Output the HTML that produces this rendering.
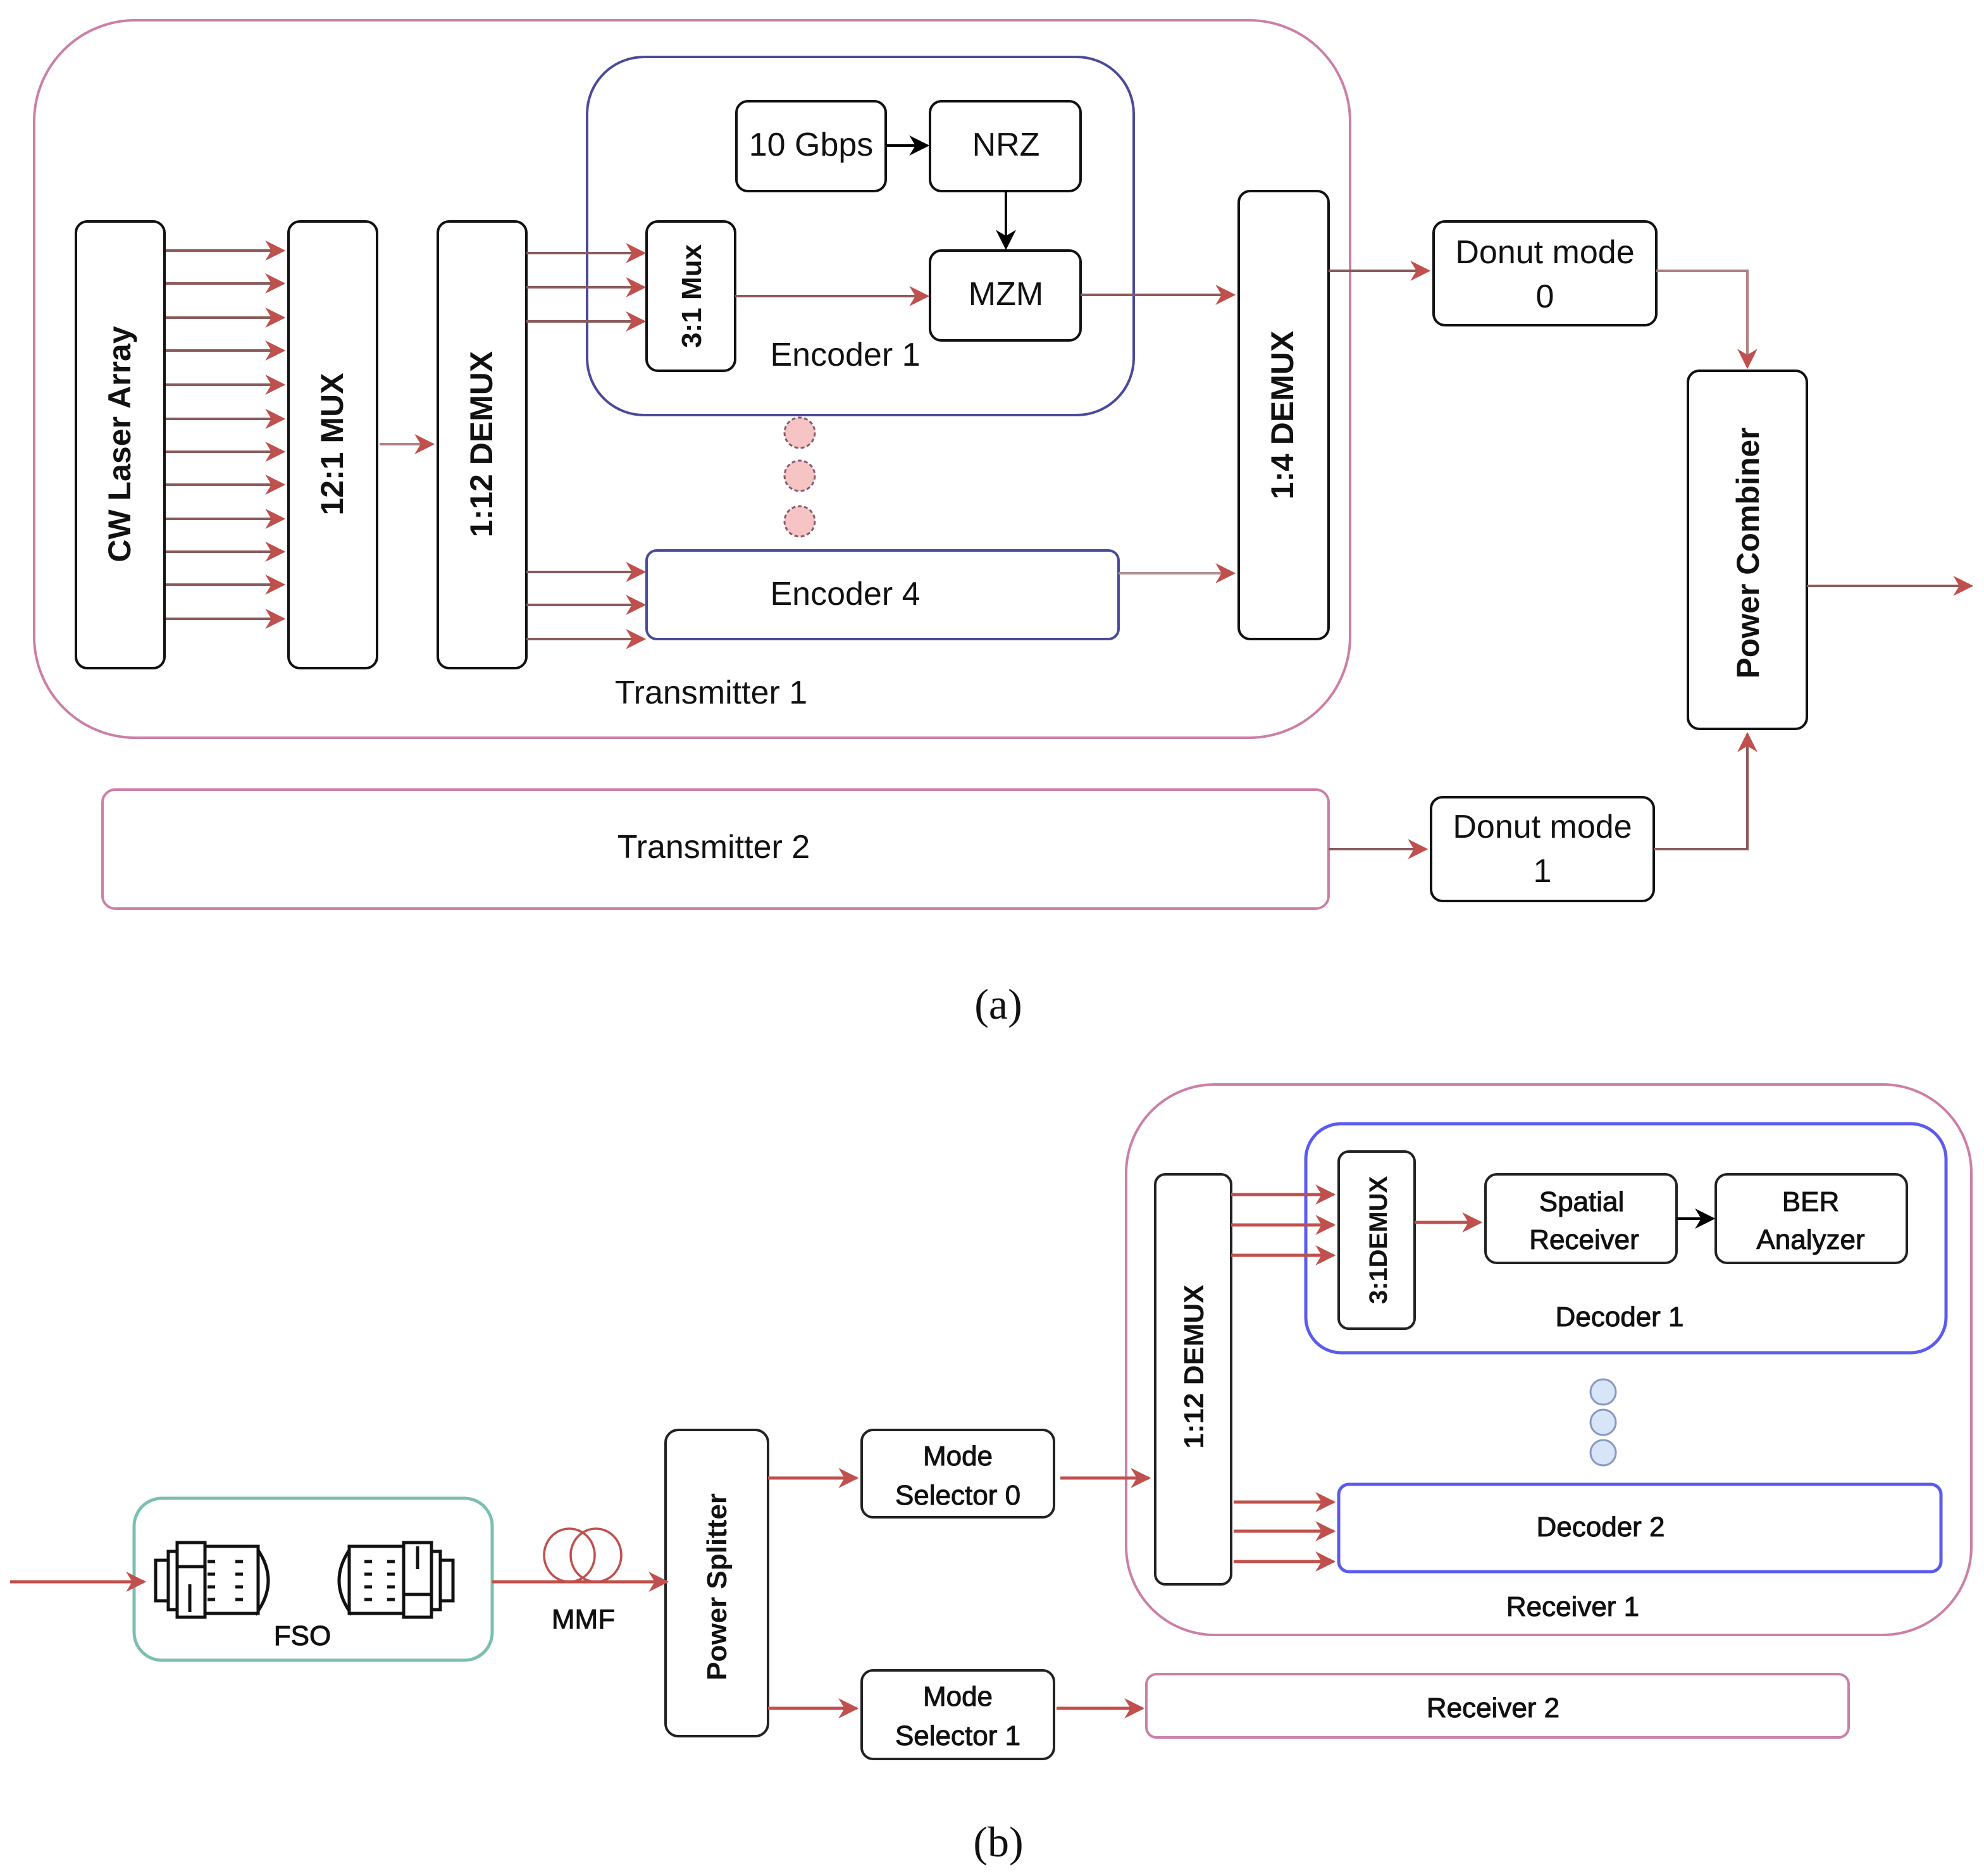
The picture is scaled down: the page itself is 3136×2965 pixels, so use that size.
<!DOCTYPE html>
<html><head><meta charset="utf-8"><style>
html,body{margin:0;padding:0;background:#fff;}
svg{display:block;}
text{font-family:"Liberation Sans",Arial,sans-serif;fill:#111;}
</style></head><body>
<svg width="3136" height="2965" viewBox="0 0 1568 1482.5" xmlns="http://www.w3.org/2000/svg">
<defs>
<marker id="ar" viewBox="0 0 10 10" refX="9" refY="5" markerWidth="16" markerHeight="16" markerUnits="userSpaceOnUse" orient="auto"><path d="M0,0 L10,5 L0,10 L3,5 z" fill="#c0504d"/></marker>
<marker id="ab" viewBox="0 0 10 10" refX="9" refY="5" markerWidth="16" markerHeight="16" markerUnits="userSpaceOnUse" orient="auto"><path d="M0,0 L10,5 L0,10 L3,5 z" fill="#000"/></marker>
</defs>
<rect width="1568" height="1482.5" fill="#fff"/>

<!-- ===== (a) ===== -->
<rect x="27" y="16" width="1040" height="567" rx="80" fill="none" stroke="#cc7fa6" stroke-width="2"/>
<rect x="464" y="45" width="432" height="283" rx="45" fill="none" stroke="#4a4a9a" stroke-width="2"/>
<g fill="#fff" stroke="#111" stroke-width="2">
<rect x="60" y="175" width="70" height="353" rx="9"/>
<rect x="228" y="175" width="70" height="353" rx="9"/>
<rect x="346" y="175" width="70" height="353" rx="9"/>
<rect x="582" y="80" width="118" height="71" rx="9"/>
<rect x="735" y="80" width="119" height="71" rx="9"/>
<rect x="735" y="198" width="119" height="71" rx="9"/>
<rect x="511" y="175" width="70" height="118" rx="9"/>
<rect x="979" y="151" width="71" height="354" rx="9"/>
<rect x="1133" y="175" width="176" height="82" rx="9"/>
<rect x="1334" y="293" width="94" height="283" rx="9"/>
<rect x="1131" y="630" width="176" height="82" rx="9"/>
</g>
<rect x="511" y="435" width="373" height="70" rx="8" fill="#fff" stroke="#4a4a9a" stroke-width="2"/>
<rect x="81" y="624" width="969" height="94" rx="10" fill="#fff" stroke="#cc7fa6" stroke-width="2"/>

<g fill="#f6c4c4" stroke="#8a5a6a" stroke-width="1.5" stroke-dasharray="3,2">
<circle cx="632" cy="342" r="12"/><circle cx="632" cy="376" r="12"/><circle cx="632" cy="412" r="12"/>
</g>

<g stroke="#8b5a5a" stroke-width="2" marker-end="url(#ar)" fill="none">
<line x1="131" y1="198" x2="224" y2="198"/><line x1="131" y1="224" x2="224" y2="224"/>
<line x1="131" y1="251" x2="224" y2="251"/><line x1="131" y1="277" x2="224" y2="277"/>
<line x1="131" y1="304" x2="224" y2="304"/><line x1="131" y1="331" x2="224" y2="331"/>
<line x1="131" y1="357" x2="224" y2="357"/><line x1="131" y1="383" x2="224" y2="383"/>
<line x1="131" y1="410" x2="224" y2="410"/><line x1="131" y1="436" x2="224" y2="436"/>
<line x1="131" y1="462" x2="224" y2="462"/><line x1="131" y1="489" x2="224" y2="489"/>
<line x1="300" y1="351" x2="342" y2="351" stroke="#b08080"/>
<line x1="416" y1="200" x2="509" y2="200"/><line x1="416" y1="227" x2="509" y2="227"/><line x1="416" y1="254" x2="509" y2="254"/>
<line x1="416" y1="452" x2="509" y2="452"/><line x1="416" y1="478" x2="509" y2="478"/><line x1="416" y1="505" x2="509" y2="505"/>
<line x1="581" y1="234" x2="733" y2="234"/>
<line x1="854" y1="233" x2="975" y2="233"/>
<line x1="884" y1="453" x2="975" y2="453" stroke="#b09090"/>
<line x1="1050" y1="214" x2="1129" y2="214"/>
<polyline points="1309,214 1381,214 1381,290" stroke="#b08080"/>
<line x1="1050" y1="671" x2="1127" y2="671"/>
<polyline points="1307,671 1381,671 1381,580"/>
<line x1="1428" y1="463" x2="1558" y2="463"/>
</g>
<g stroke="#000" stroke-width="2" marker-end="url(#ab)">
<line x1="700" y1="115" x2="733" y2="115"/>
<line x1="795" y1="151" x2="795" y2="196"/>
</g>

<g font-size="26" text-anchor="middle">
<text x="641" y="123">10 Gbps</text>
<text x="795" y="123">NRZ</text>
<text x="795" y="241">MZM</text>
<text x="668" y="289">Encoder 1</text>
<text x="668" y="478">Encoder 4</text>
<text x="562" y="556">Transmitter 1</text>
<text x="564" y="678">Transmitter 2</text>
<text x="1221" y="208">Donut mode</text>
<text x="1221" y="243">0</text>
<text x="1219" y="662">Donut mode</text>
<text x="1219" y="697">1</text>
</g>
<g font-size="25" font-weight="bold" text-anchor="middle">
<text transform="translate(103,351) rotate(-90)">CW Laser Array</text>
<text transform="translate(271,351) rotate(-90)">12:1 MUX</text>
<text transform="translate(389,351) rotate(-90)">1:12 DEMUX</text>
<text transform="translate(1022,328) rotate(-90)">1:4 DEMUX</text>
<text transform="translate(1390,437) rotate(-90)">Power Combiner</text>
</g>
<text transform="translate(554,234) rotate(-90)" font-size="22" font-weight="bold" text-anchor="middle">3:1 Mux</text>
<text x="789" y="805" font-size="34" text-anchor="middle" style="font-family:'Liberation Serif',serif">(a)</text>

<!-- ===== (b) ===== -->
<rect x="890" y="857" width="668" height="435" rx="70" fill="none" stroke="#cc7fa6" stroke-width="2"/>
<rect x="1032" y="888" width="506" height="181" rx="28" fill="none" stroke="#5b5bf0" stroke-width="2.5"/>
<rect x="1058" y="1173" width="476" height="69" rx="8" fill="#fff" stroke="#5b5bf0" stroke-width="2.5"/>
<rect x="906" y="1323" width="555" height="50" rx="8" fill="#fff" stroke="#cc7fa6" stroke-width="2"/>
<rect x="106" y="1184" width="283" height="128" rx="22" fill="none" stroke="#7bbfb0" stroke-width="2.5"/>
<g fill="#fff" stroke="#222" stroke-width="2">
<rect x="1058" y="910" width="60" height="140" rx="8"/>
<rect x="1174" y="928" width="151" height="70" rx="9"/>
<rect x="1356" y="928" width="151" height="70" rx="9"/>
<rect x="913" y="928" width="60" height="324" rx="8"/>
<rect x="681" y="1130" width="152" height="69" rx="9"/>
<rect x="681" y="1320" width="152" height="70" rx="9"/>
<rect x="526" y="1130" width="81" height="242" rx="10"/>
</g>
<g fill="#d8e4f8" stroke="#8898c0" stroke-width="1.5">
<circle cx="1267" cy="1100" r="10"/><circle cx="1267" cy="1124" r="10"/><circle cx="1267" cy="1148" r="10"/>
</g>

<g stroke="#c0504d" stroke-width="2.5" marker-end="url(#ar)" fill="none">
<line x1="973" y1="944" x2="1054" y2="944"/><line x1="973" y1="968" x2="1054" y2="968"/><line x1="973" y1="992" x2="1054" y2="992"/>
<line x1="1118" y1="966" x2="1170" y2="966"/>
<line x1="975" y1="1187" x2="1054" y2="1187"/><line x1="975" y1="1210" x2="1054" y2="1210"/><line x1="975" y1="1234" x2="1054" y2="1234"/>
<line x1="607" y1="1168" x2="677" y2="1168"/>
<line x1="838" y1="1168" x2="908" y2="1168"/>
<line x1="607" y1="1350" x2="677" y2="1350"/>
<line x1="835" y1="1350" x2="903" y2="1350"/>
<line x1="8" y1="1250" x2="114" y2="1250"/>
<line x1="389" y1="1250" x2="527" y2="1250"/>
</g>
<line x1="1325" y1="963" x2="1354" y2="963" stroke="#000" stroke-width="2" marker-end="url(#ab)"/>
<g fill="none" stroke="#c0504d" stroke-width="1.8">
<ellipse cx="450" cy="1229" rx="20" ry="21"/><ellipse cx="471" cy="1229" rx="20" ry="21"/>
</g>

<!-- FSO icons -->
<g fill="#fff" stroke="#111" stroke-width="2.5">
<rect x="123" y="1233" width="10" height="32"/>
<rect x="133" y="1226" width="8" height="46"/>
<rect x="140" y="1219" width="22" height="59"/>
<rect x="162" y="1222" width="42" height="53"/>
<path d="M204,1225 Q220,1249 204,1273 z"/>
<rect x="348" y="1233" width="10" height="32"/>
<rect x="340" y="1226" width="8" height="46"/>
<rect x="319" y="1219" width="22" height="59"/>
<rect x="276" y="1222" width="43" height="53"/>
<path d="M276,1225 Q260,1249 276,1273 z"/>
</g>
<g stroke="#111" stroke-width="2.5">
<line x1="164" y1="1234" x2="170" y2="1234"/><line x1="164" y1="1244" x2="170" y2="1244"/><line x1="164" y1="1254" x2="170" y2="1254"/><line x1="164" y1="1264" x2="170" y2="1264"/>
<line x1="186" y1="1234" x2="192" y2="1234"/><line x1="186" y1="1244" x2="192" y2="1244"/><line x1="186" y1="1254" x2="192" y2="1254"/><line x1="186" y1="1264" x2="192" y2="1264"/>
<line x1="288" y1="1234" x2="294" y2="1234"/><line x1="288" y1="1244" x2="294" y2="1244"/><line x1="288" y1="1254" x2="294" y2="1254"/><line x1="288" y1="1264" x2="294" y2="1264"/>
<line x1="306" y1="1234" x2="312" y2="1234"/><line x1="306" y1="1244" x2="312" y2="1244"/><line x1="306" y1="1254" x2="312" y2="1254"/><line x1="306" y1="1264" x2="312" y2="1264"/>
<line x1="140" y1="1238" x2="162" y2="1238"/><line x1="319" y1="1260" x2="341" y2="1260"/>
<line x1="150" y1="1252" x2="150" y2="1274"/><line x1="330" y1="1222" x2="330" y2="1240"/>
</g>

<g font-size="22" text-anchor="middle" stroke="#111" stroke-width="0.5">
<text x="1250" y="957">Spatial</text>
<text x="1252" y="987">Receiver</text>
<text x="1431" y="957">BER</text>
<text x="1431" y="987">Analyzer</text>
<text x="1280" y="1048">Decoder 1</text>
<text x="1265" y="1214">Decoder 2</text>
<text x="1243" y="1277">Receiver 1</text>
<text x="1180" y="1357">Receiver 2</text>
<text x="757" y="1158">Mode</text>
<text x="757" y="1189">Selector 0</text>
<text x="757" y="1348">Mode</text>
<text x="757" y="1379">Selector 1</text>
<text x="461" y="1287">MMF</text>
<text x="239" y="1300">FSO</text>
</g>
<g font-size="22" font-weight="bold" text-anchor="middle">
<text transform="translate(951,1080) rotate(-90)">1:12 DEMUX</text>
<text transform="translate(574,1254) rotate(-90)">Power Splitter</text>
<text transform="translate(1096,980) rotate(-90)" font-size="20">3:1DEMUX</text>
</g>
<text x="789" y="1467" font-size="34" text-anchor="middle" style="font-family:'Liberation Serif',serif">(b)</text>
</svg>
</body></html>
